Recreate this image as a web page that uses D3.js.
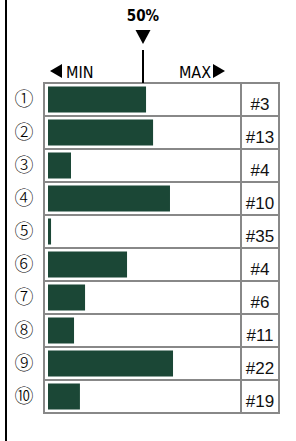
<!DOCTYPE html>
<html>
<head>
<meta charset="utf-8">
<script src="https://cdn.jsdelivr.net/npm/d3@7"></script>
<style>
  html, body { margin: 0; padding: 0; background: #fff; }
  svg { display: block; }
</style>
</head>
<body>
<svg id="chart"></svg>
<script>
// data
const labels = ['①', '②', '③', '④', '⑤', '⑥', '⑦', '⑧', '⑨', '⑩'];
const shares = [51.6, 55.3, 12.1, 64.2, 1.6, 41.6, 19.5, 13.7, 65.8, 16.8];
const ranks = ['#3', '#13', '#4', '#10', '#35', '#4', '#6', '#11', '#22', '#19'];
const marker = 50;

// size
const width = 296,
  height = 441;
const tLeft = 44,
  tDiv = 241,
  tRight = 279,
  tTop = 83,
  rowH = 33;
const headFont = '"DejaVu Sans Condensed", sans-serif';

const svg = d3.select('#chart').attr('width', width).attr('height', height);

// scales
const x = d3.scaleLinear().domain([0, 100]).range([48, 238]);
const y = d3
  .scaleBand()
  .domain(labels)
  .range([tTop, tTop + rowH * labels.length]);

// left black rule
svg
  .append('line')
  .attr('x1', 6)
  .attr('x2', 6)
  .attr('y1', 0)
  .attr('y2', height)
  .attr('stroke', '#000')
  .attr('stroke-width', 2);

// bars
svg
  .append('g')
  .selectAll('rect')
  .data(shares)
  .join('rect')
  .attr('x', x(0))
  .attr('y', (d, i) => y(labels[i]) + 3.5)
  .attr('width', (d) => x(d) - x(0))
  .attr('height', y.bandwidth() - 7)
  .attr('fill', '#1b4736');

// table grid
const grid = svg.append('g').attr('stroke', '#888').attr('stroke-width', 2).attr('fill', 'none');
grid
  .selectAll('line.row')
  .data(d3.range(labels.length + 1))
  .join('line')
  .attr('class', 'row')
  .attr('x1', tLeft)
  .attr('x2', tRight)
  .attr('y1', (d) => tTop + d * rowH)
  .attr('y2', (d) => tTop + d * rowH);
[tLeft, tDiv, tRight].forEach((cx) => {
  grid
    .append('line')
    .attr('x1', cx)
    .attr('x2', cx)
    .attr('y1', y.range()[0] - 1)
    .attr('y2', y.range()[1] + 1);
});

// circled numbers
svg
  .append('g')
  .selectAll('text')
  .data(labels)
  .join('text')
  .attr('x', 24)
  .attr('y', (d) => y(d) + y.bandwidth() / 2 + 6.5)
  .attr('text-anchor', 'middle')
  .attr('font-family', '"Noto Sans CJK JP", sans-serif')
  .attr('font-weight', 300)
  .attr('font-size', 19)
  .text((d) => d);

// ranks
svg
  .append('g')
  .selectAll('text')
  .data(ranks)
  .join('text')
  .attr('x', (tDiv + tRight) / 2)
  .attr('y', (d, i) => y(labels[i]) + 27)
  .attr('text-anchor', 'middle')
  .attr('font-family', '"Liberation Sans", Arial, sans-serif')
  .attr('font-size', 17)
  .attr('fill', '#111')
  .text((d) => d);

// 50% marker
const mx = x(marker);
svg
  .append('text')
  .attr('x', mx)
  .attr('y', 21)
  .attr('text-anchor', 'middle')
  .attr('font-family', headFont)
  .attr('font-weight', 'bold')
  .attr('font-size', 15)
  .text(marker + '%');
svg
  .append('path')
  .attr('d', `M${mx - 7.5},30 L${mx + 7.5},30 L${mx},44 Z`)
  .attr('fill', '#000');
svg
  .append('line')
  .attr('x1', mx)
  .attr('x2', mx)
  .attr('y1', 50)
  .attr('y2', tTop)
  .attr('stroke', '#000')
  .attr('stroke-width', 2);

// min / max
svg
  .append('path')
  .attr('d', 'M50,71 L62,64 L62,78 Z')
  .attr('fill', '#000');
svg
  .append('text')
  .attr('x', 66)
  .attr('y', 78)
  .attr('font-family', headFont)
  .attr('font-size', 16)
  .text('MIN');
svg
  .append('text')
  .attr('x', 211)
  .attr('y', 78)
  .attr('text-anchor', 'end')
  .attr('font-family', headFont)
  .attr('font-size', 16)
  .text('MAX');
svg
  .append('path')
  .attr('d', 'M213,64 L225,71 L213,78 Z')
  .attr('fill', '#000');
</script>
</body>
</html>
